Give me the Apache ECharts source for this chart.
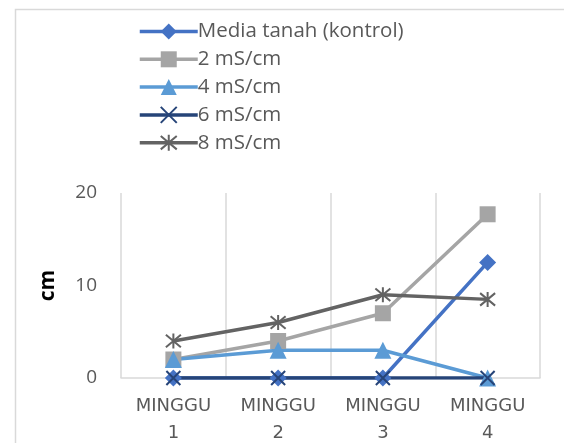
<!DOCTYPE html>
<html>
<head>
<meta charset="utf-8">
<script src="https://cdn.jsdelivr.net/npm/echarts@6/dist/echarts.min.js"></script>
<style>
  html, body { margin: 0; padding: 0; background: #fff; }
  #chart { width: 564px; height: 443px; }
</style>
</head>
<body>
<div id="chart"></div>
<script>
// data
const weeks = ['MINGGU 1', 'MINGGU 2', 'MINGGU 3', 'MINGGU 4']
const seriesNames = ['Media tanah (kontrol)', '2 mS/cm', '4 mS/cm', '6 mS/cm', '8 mS/cm']
const kontrol = [0, 0, 0, 12.5]
const ms2 = [2, 4, 7, 17.7]
const ms4 = [2, 3, 3, 0]
const ms6 = [0, 0, 0, 0]
const ms8 = [4, 6, 9, 8.5]
const yTicks = [0, 10, 20]

const colors = ['#4472C4', '#A5A5A5', '#5B9BD5', '#264478', '#636363']
const symbols = [
    'diamond',
    'rect',
    'triangle',
    'path://M0,0L10,10M10,0L0,10',
    'path://M0,0L10,10M10,0L0,10M5,-1L5,11'
]
const allData = [kontrol, ms2, ms4, ms6, ms8]

let chart = echarts.init(document.getElementById('chart'))

let series = allData.map((d, i) => {
    let stroked = i >= 3
    return {
        name: seriesNames[i],
        type: 'line',
        data: d,
        symbol: symbols[i],
        symbolSize: [17, 16, 17, 14, 15][i],
        showAllSymbol: true,
        lineStyle: { color: colors[i], width: 3.5 },
        itemStyle: stroked
            ? { color: 'none', borderColor: colors[i], borderWidth: 2 }
            : { color: colors[i] },
        emphasis: { disabled: true },
        animation: false
    }
})

const option = {
    backgroundColor: '#fff',
    graphic: [{
        type: 'rect',
        shape: { x: 15.5, y: 9.5, width: 700, height: 600 },
        style: { fill: 'none', stroke: '#d9d9d9', lineWidth: 1.5 },
        silent: true
    }],
    legend: {
        orient: 'vertical',
        left: 133,
        top: 16,
        itemWidth: 58,
        itemHeight: 20,
        itemGap: 6.8,
        data: seriesNames,
        lineStyle: { width: 3.5 },
        textStyle: {
            fontFamily: 'Open Sans',
            fontSize: 20.5,
            lineHeight: 20,
            color: '#595959',
            padding: [0, 0, 0, -5]
        }
    },
    grid: { left: 121, right: 24, top: 193, bottom: 65, outerBoundsMode: 'none' },
    xAxis: {
        type: 'category',
        data: weeks,
        axisLine: { show: true, lineStyle: { color: '#d9d9d9', width: 1.5 } },
        axisTick: { show: false },
        splitLine: { show: true, lineStyle: { color: '#d9d9d9', width: 1.5 } },
        axisLabel: {
            interval: 0,
            margin: 15,
            lineHeight: 27,
            fontFamily: 'DejaVu Sans',
            fontSize: 18,
            color: '#595959',
            formatter: v => v.replace(' ', '\n')
        }
    },
    yAxis: {
        type: 'value',
        min: yTicks[0],
        max: yTicks[yTicks.length - 1],
        interval: 10,
        name: 'cm',
        nameLocation: 'middle',
        nameGap: 62,
        nameTextStyle: { fontFamily: 'Open Sans', fontSize: 21, fontWeight: 'bold', color: '#000' },
        axisLine: { show: false },
        axisTick: { show: false },
        splitLine: { show: false },
        axisLabel: { fontFamily: 'Open Sans', fontSize: 19, color: '#595959', margin: 24 }
    },
    series: series
}

chart.setOption(option)
</script>
</body>
</html>
